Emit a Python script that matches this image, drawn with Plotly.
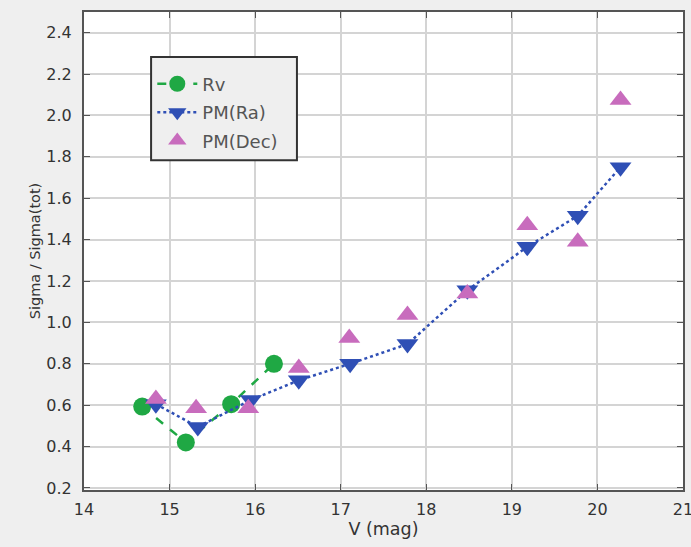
import plotly.graph_objects as go

rv_x = [14.68, 15.19, 15.72, 16.22]
rv_y = [0.593, 0.42, 0.605, 0.80]

ra_x = [14.84, 15.33, 15.95, 16.51, 17.11, 17.78, 18.48, 19.18, 19.77, 20.27]
ra_y = [0.605, 0.495, 0.625, 0.72, 0.80, 0.895, 1.155, 1.365, 1.515, 1.75]

dec_x = [14.84, 15.31, 15.92, 16.51, 17.10, 17.78, 18.48, 19.18, 19.77, 20.27]
dec_y = [0.63, 0.585, 0.585, 0.78, 0.925, 1.036, 1.14, 1.47, 1.39, 2.075]

x_ticks = [14, 15, 16, 17, 18, 19, 20, 21]
y_ticks = [0.2, 0.4, 0.6, 0.8, 1.0, 1.2, 1.4, 1.6, 1.8, 2.0, 2.2, 2.4]

GREEN = "#1fa844"
BLUE = "#2f4fb5"
PINK = "#c86cbd"
BG = "#efefef"

fig = go.Figure()
fig.add_trace(go.Scatter(
    x=rv_x, y=rv_y, name="Rv", mode="lines+markers", legendgroup="a",
    line=dict(color=GREEN, width=2.5, dash="dash"),
    marker=dict(symbol="circle", size=18, color=GREEN)))
fig.add_trace(go.Scatter(
    x=ra_x, y=ra_y, name="PM(Ra)", mode="lines+markers", legendgroup="b",
    line=dict(color=BLUE, width=2.5, dash="dot"),
    marker=dict(symbol="triangle-down", size=19, color=BLUE)))
fig.add_trace(go.Scatter(
    x=dec_x, y=dec_y, name="PM(Dec)", mode="markers", legendgroup="c",
    marker=dict(symbol="triangle-up", size=19, color=PINK)))

axis_common = dict(
    showgrid=True, gridcolor="#d4d4d4", gridwidth=1.5,
    showline=True, linecolor="#555555", linewidth=2, mirror="ticks",
    ticks="inside", ticklen=6, tickcolor="#555555",
    tickfont=dict(family="DejaVu Sans", size=16, color="#333333"),
    zeroline=False, automargin=False, ticklabeloverflow="allow",
)

fig.update_xaxes(range=[14, 21], tickvals=x_ticks,
                 title=dict(text="V (mag)", standoff=2,
                            font=dict(family="DejaVu Sans", size=17.5, color="#333333")),
                 ticklabelstandoff=4,
                 **axis_common)
fig.update_yaxes(range=[0.19, 2.5], tickvals=y_ticks, tickformat=".1f",
                 title=dict(text="Sigma / Sigma(tot)", standoff=2,
                            font=dict(family="DejaVu Sans", size=14.5, color="#333333")),
                 ticklabelstandoff=7,
                 **axis_common)

# legend frame (drawn as a shape so its size matches the reference box)
fig.add_shape(type="rect", xref="paper", yref="paper",
              x0=0.112, x1=0.3555, y0=0.690, y1=0.906,
              fillcolor=BG, line=dict(color="#333333", width=2), layer="above")

fig.update_layout(
    width=691, height=547,
    margin=dict(l=84, r=8, t=12, b=57),
    paper_bgcolor=BG, plot_bgcolor="white",
    showlegend=True,
    legend=dict(x=0.114, y=0.888, xanchor="left", yanchor="top",
                bgcolor="rgba(0,0,0,0)", borderwidth=0,
                font=dict(family="DejaVu Sans", size=18, color="#555555"),
                tracegroupgap=2, itemwidth=40),
)

fig.write_html("out.html", config={"displayModeBar": False},
               post_script="document.body.style.margin='0';")
